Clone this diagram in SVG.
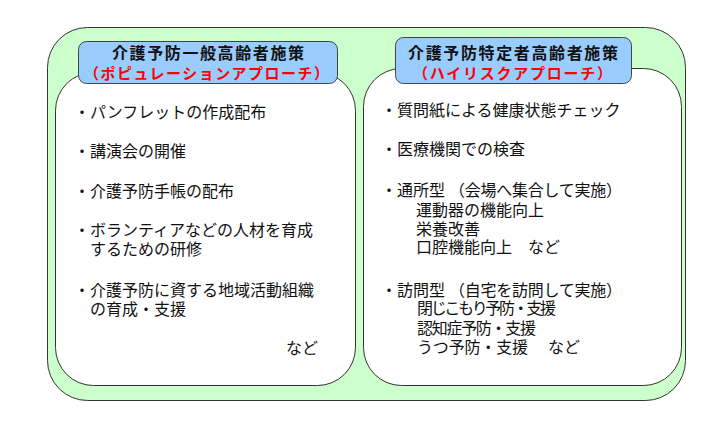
<svg xmlns="http://www.w3.org/2000/svg" width="720" height="430" viewBox="0 0 720 430">
<style>
.outer{fill:#CCFFCC;stroke:#333;stroke-width:1}
.panel{fill:#FFFFFF;stroke:#333;stroke-width:1}
.hdr{fill:#99CCFF;stroke:#444;stroke-width:1}
.t{font-family:"Noto Sans CJK JP","Noto Sans CJK SC",sans-serif;font-size:16px;fill:#111}
.ttl{font-family:"Noto Sans CJK JP","Noto Sans CJK SC",sans-serif;font-size:16px;font-weight:bold;fill:#111}
.sub{font-family:"Noto Sans CJK JP","Noto Sans CJK SC",sans-serif;font-size:15px;font-weight:bold;fill:#FF0000}
</style>
<rect width="720" height="430" fill="#FFFFFF"/>
<g id="outer-frame">
<rect class="outer" x="47.5" y="27.5" width="638" height="373" rx="40" ry="40"/>
</g>
<g id="population-approach">
<rect class="panel" x="55.5" y="72.5" width="300" height="313" rx="38" ry="38"/>
<rect class="hdr" x="78.5" y="41.5" width="259" height="42" rx="8" ry="8"/>
<text class="ttl" x="112" y="59" textLength="192" lengthAdjust="spacing">介護予防一般高齢者施策</text>
<text class="sub" x="84" y="79" textLength="245" lengthAdjust="spacing">（ポピュレーションアプローチ）</text>
<text class="t" x="74" y="118">・パンフレットの作成配布</text>
<text class="t" x="74" y="156.5">・講演会の開催</text>
<text class="t" x="74" y="196.5">・介護予防手帳の配布</text>
<text class="t" x="74" y="236">・ボランティアなどの人材を育成<tspan x="90" y="254.5">するための研修</tspan></text>
<text class="t" x="74" y="295.5">・介護予防に資する地域活動組織<tspan x="90" y="314.5">の育成・支援</tspan></text>
<text class="t" x="286" y="353.5">など</text>
</g>
<g id="high-risk-approach">
<rect class="panel" x="363.5" y="68.5" width="318" height="317" rx="38" ry="38"/>
<rect class="hdr" x="395.5" y="37.5" width="236" height="46" rx="8" ry="8"/>
<text class="ttl" x="408" y="59" textLength="210" lengthAdjust="spacing">介護予防特定者高齢者施策</text>
<text class="sub" x="413" y="79" textLength="199" lengthAdjust="spacing">（ハイリスクアプローチ）</text>
<text class="t" x="381" y="115.5">・質問紙による健康状態チェック</text>
<text class="t" x="381" y="155">・医療機関での検査</text>
<text class="t" x="381" y="196">・通所型<tspan x="449" y="196" textLength="173" lengthAdjust="spacing">（会場へ集合して実施）</tspan><tspan x="416" y="216">運動器の機能向上</tspan><tspan x="416" y="234.5">栄養改善</tspan><tspan x="416" y="253">口腔機能向上　など</tspan></text>
<text class="t" x="381" y="295.5">・訪問型<tspan x="449" y="295.5" textLength="173" lengthAdjust="spacing">（自宅を訪問して実施）</tspan><tspan x="417" y="314" textLength="139" lengthAdjust="spacing">閉じこもり予防・支援</tspan><tspan x="417" y="333.5" textLength="119" lengthAdjust="spacing">認知症予防・支援</tspan><tspan x="417" y="353" textLength="111" lengthAdjust="spacing">うつ予防・支援</tspan><tspan x="548" y="353">など</tspan></text>
</g>
<g id="connectors"></g>
</svg>
